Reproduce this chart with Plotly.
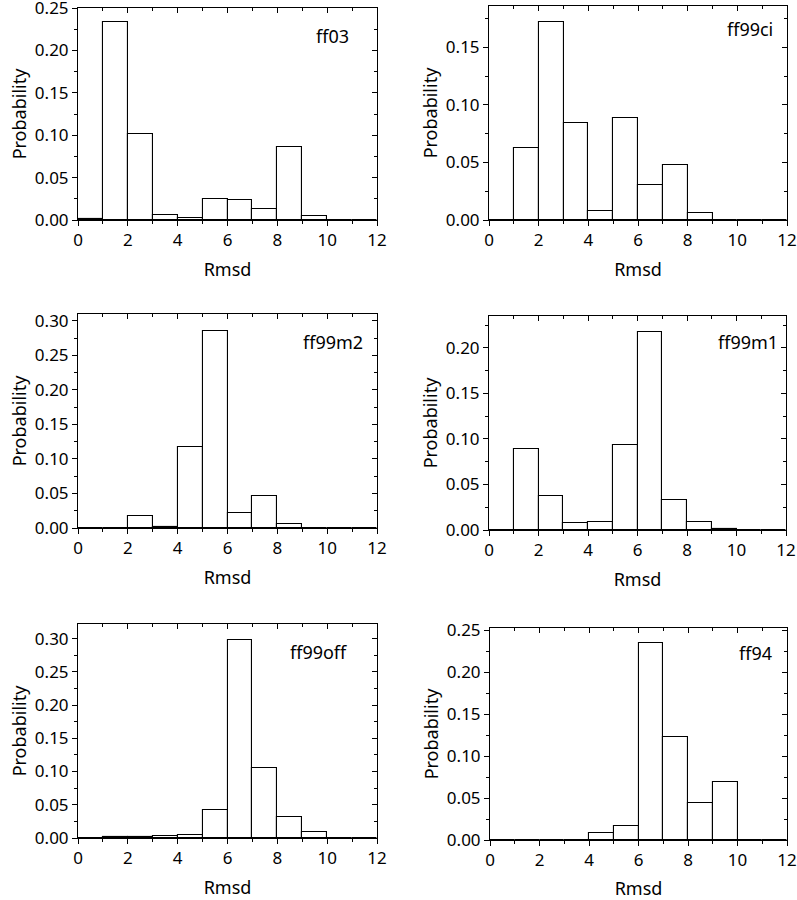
import plotly.graph_objects as go

bin_centers = [0.5, 1.5, 2.5, 3.5, 4.5, 5.5, 6.5, 7.5, 8.5, 9.5, 10.5, 11.5]

ff03 = [0.001, 0.233, 0.102, 0.006, 0.0024, 0.025, 0.0235, 0.0133, 0.086, 0.0043, 0.0005, 0]
ff99ci = [0, 0.063, 0.172, 0.0844, 0.0081, 0.089, 0.0302, 0.0476, 0.0064, 0, 0, 0]
ff99m2 = [0, 0, 0.0169, 0.002, 0.117, 0.2857, 0.0222, 0.0462, 0.0053, 0, 0, 0]
ff99m1 = [0, 0.0886, 0.037, 0.0073, 0.0092, 0.0938, 0.2176, 0.0326, 0.0092, 0.0015, 0, 0]
ff99off = [0, 0.001, 0.0015, 0.003, 0.004, 0.0426, 0.2974, 0.1058, 0.0316, 0.0095, 0, 0]
ff94 = [0, 0, 0, 0, 0.0084, 0.0171, 0.2357, 0.1226, 0.0446, 0.0697, 0.0005, 0]

labels = ["ff03", "ff99ci", "ff99m2", "ff99m1", "ff99off", "ff94"]
series = [ff03, ff99ci, ff99m2, ff99m1, ff99off, ff94]
y_max = [0.25, 0.186, 0.31, 0.235, 0.322, 0.253]

W, H = 797, 900
# panel boxes in pixels: (left, right, top, bottom)
boxes = [
    (78, 377, 8, 220),
    (489, 787, 6, 220),
    (78, 377, 314, 528),
    (489, 786, 316, 530),
    (78, 377, 624, 838),
    (490, 787, 628, 840),
]
label_pos = [(0.913, 0.869), (0.96, 0.893), (0.96, 0.869), (0.98, 0.878), (0.91, 0.869), (0.956, 0.88)]

FONT = "Noto Sans"
FS = 18
TFS = 17


def sfx(k):
    return "" if k == 1 else str(k)


fig = go.Figure()
layout = dict(
    width=W, height=H, margin=dict(l=0, r=0, t=0, b=0, autoexpand=False),
    paper_bgcolor="white", plot_bgcolor="white", showlegend=False,
    font=dict(family=FONT, size=FS, color="black"),
    bargap=0,
)
annotations = []
for i, (lab, vals, ym, box) in enumerate(zip(labels, series, y_max, boxes)):
    n = sfx(i + 1)
    m = sfx(i + 7)
    l, r, t, b = box
    xd = [l / W, r / W]
    yd = [1 - b / H, 1 - t / H]
    fig.add_trace(go.Bar(
        x=bin_centers, y=vals, width=1.0,
        marker=dict(color="white", line=dict(color="black", width=1.1)),
        xaxis=f"x{n}", yaxis=f"y{n}", hoverinfo="skip",
    ))
    layout[f"xaxis{n}"] = dict(
        domain=xd, anchor=f"y{n}", range=[0, 12], dtick=2, tick0=0, automargin=False,
        ticklabeloverflow="allow",
        showgrid=False, zeroline=False, showline=True, linecolor="black", linewidth=1,
        ticks="outside", ticklen=5, tickcolor="black", tickwidth=1,
        minor=dict(ticks="outside", dtick=1, tick0=0, ticklen=3, tickcolor="black", showgrid=False),
        tickfont=dict(size=TFS),
        title=dict(text="Rmsd", font=dict(size=FS), standoff=12),
    )
    layout[f"yaxis{n}"] = dict(
        domain=yd, anchor=f"x{n}", range=[0, ym], dtick=0.05, tick0=0, tickformat=".2f", automargin=False,
        ticklabeloverflow="allow",
        showgrid=False, zeroline=False, showline=True, linecolor="black", linewidth=1,
        ticks="outside", ticklen=5, tickcolor="black", tickwidth=1,
        minor=dict(ticks="outside", dtick=0.025, tick0=0, ticklen=3, tickcolor="black", showgrid=False),
        tickfont=dict(size=TFS),
        title=dict(text="Probability", font=dict(size=FS), standoff=3),
    )
    layout[f"xaxis{m}"] = dict(
        domain=xd, anchor=f"y{n}", overlaying=f"x{n}", side="top", range=[0, 12], dtick=2, tick0=0,
        automargin=False,
        showgrid=False, zeroline=False, showline=True, linecolor="black", linewidth=1,
        ticks="inside", ticklen=5, tickcolor="black", showticklabels=False,
        minor=dict(ticks="inside", dtick=1, tick0=0, ticklen=3, tickcolor="black", showgrid=False),
    )
    layout[f"yaxis{m}"] = dict(
        domain=yd, anchor=f"x{n}", overlaying=f"y{n}", side="right", range=[0, ym], dtick=0.05, tick0=0,
        automargin=False,
        showgrid=False, zeroline=False, showline=True, linecolor="black", linewidth=1,
        ticks="inside", ticklen=5, tickcolor="black", showticklabels=False,
        minor=dict(ticks="inside", dtick=0.025, tick0=0, ticklen=3, tickcolor="black", showgrid=False),
    )
    lx, ly = label_pos[i]
    annotations.append(dict(
        text=lab, xref=f"x{n} domain", yref=f"y{n} domain", x=lx, y=ly,
        xanchor="right", yanchor="middle", showarrow=False, font=dict(size=FS),
    ))
    # invisible trace so the overlay (top/right) axes are drawn
    fig.add_trace(go.Scatter(x=[bin_centers[0]], y=[vals[0]], mode="markers",
                             marker=dict(opacity=0), xaxis=f"x{m}", yaxis=f"y{m}", hoverinfo="skip"))

layout["annotations"] = annotations
fig.update_layout(**layout)
fig.write_html("out.html", config={"displayModeBar": False},
               post_script="document.body.style.margin='0';document.body.style.overflow='hidden';")
